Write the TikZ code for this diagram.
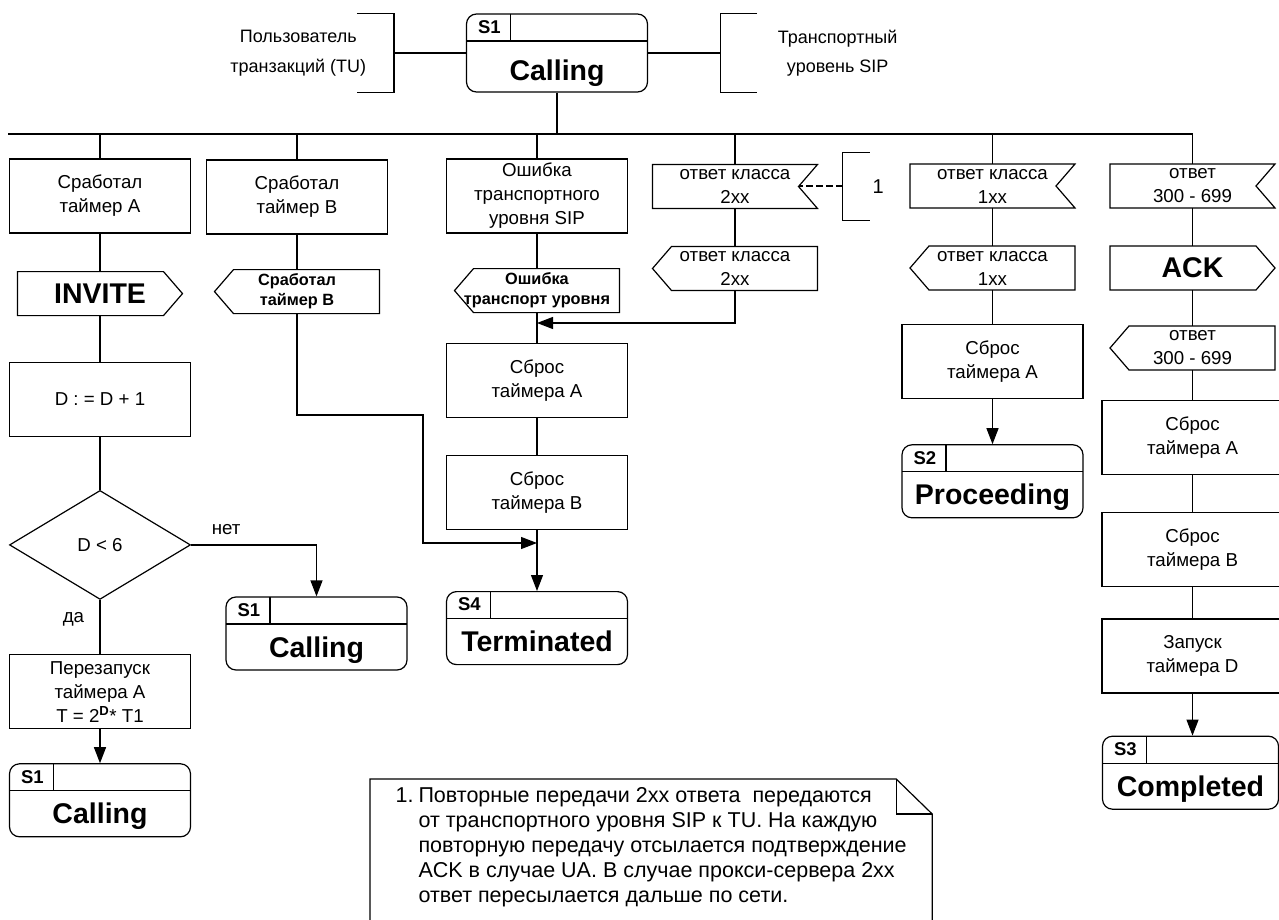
\documentclass[tikz,border=0pt]{standalone}
\usepackage{fontspec}
\setmainfont{Liberation Sans}
\usetikzlibrary{positioning,arrows.meta,shapes.geometric}
\tikzset{%
proc/.style={draw,rectangle,minimum width=181pt,minimum height=74pt,inner sep=2pt,align=center},
sigbox/.style={rectangle,fill=white,minimum width=167pt,minimum height=46pt,outer sep=-1pt,inner sep=1pt,align=center},
sigin/.style={sigbox,path picture={\draw ([shift={(1pt,-1pt)}]path picture bounding box.north west) -- ([shift={(-1pt,-1pt)}]path picture bounding box.north east) -- ([xshift=-20pt]path picture bounding box.east) -- ([shift={(-1pt,1pt)}]path picture bounding box.south east) -- ([shift={(1pt,1pt)}]path picture bounding box.south west) -- cycle;}},
sigleft/.style={sigbox,path picture={\draw ([shift={(20pt,-1pt)}]path picture bounding box.north west) -- ([shift={(-1pt,-1pt)}]path picture bounding box.north east) -- ([shift={(-1pt,1pt)}]path picture bounding box.south east) -- ([shift={(20pt,1pt)}]path picture bounding box.south west) -- ([xshift=1pt]path picture bounding box.west) -- cycle;}},
sigright/.style={sigbox,path picture={\draw ([shift={(1pt,-1pt)}]path picture bounding box.north west) -- ([shift={(-20pt,-1pt)}]path picture bounding box.north east) -- ([xshift=-1pt]path picture bounding box.east) -- ([shift={(-20pt,1pt)}]path picture bounding box.south east) -- ([shift={(1pt,1pt)}]path picture bounding box.south west) -- cycle;}},
smallbold/.style={font=\bfseries\fontsize{16.3}{20}\selectfont},
bigbold/.style={font=\bfseries\fontsize{28.5}{30}\selectfont},
cond/.style={draw,diamond,aspect=1.66,minimum width=181pt,minimum height=109pt,inner sep=0pt},
state/.style={draw,rectangle,rounded corners=10pt,minimum width=181pt,minimum height=73pt,inner sep=0pt,
  text height=50pt,text depth=3pt,font=\bfseries\fontsize{28.5}{30}\selectfont,
  path picture={\draw ([yshift=-27pt]path picture bounding box.north west) -- ([yshift=-27pt]path picture bounding box.north east);
    \draw ([xshift=44pt]path picture bounding box.north west) -- ([xshift=44pt,yshift=-27pt]path picture bounding box.north west);},
  label={[statenum]north west:#1}},
statenum/.style={anchor=center,xshift=23.5pt,yshift=-13.5pt,inner sep=0pt,font=\bfseries\fontsize{18.5}{20}\selectfont},
annot/.style={minimum height=78pt,inner sep=0pt,align=center,font=\fontsize{18}{29.5}\selectfont},
notetext/.style={anchor=north west,inner sep=0pt,font=\fontsize{21.5}{24.8}\selectfont},
arr/.style={-{Triangle[length=16pt,width=12pt]}}
}

\begin{document}
\begin{tikzpicture}[x=1pt,y=-1pt,line width=1.2pt,font=\fontsize{18.7}{24}\selectfont]
  \useasboundingbox (0,0) rectangle (1279,920);

  % head of the transaction
  \node[state=S1,minimum height=78pt,text height=59pt] (top) at (557,53) {Calling};
  \node[annot,minimum width=190pt] (tu)  [left=72pt of top]  {Пользователь\\транзакций (TU)};
  \node[annot,minimum width=234pt] (sip) [right=72pt of top] {Транспортный\\уровень SIP};

  % first row
  \node[proc]  (tA)  at (100,196)    {Сработал\\таймер A};
  \node[proc]  (tB)  at (297,197)    {Сработал\\таймер B};
  \node[proc]  (err) at (537,196)    {Ошибка\\транспортного\\уровня SIP};
  \node[sigin] (in2) at (735,186.5)  {ответ класса\\2xx};
  \node[sigin] (in1) at (992.5,186)  {ответ класса\\1xx};
  \node[sigin] (in3) at (1192.5,186) {ответ\\300 - 699};
  \node[annot,minimum width=70pt,minimum height=67pt,font=\fontsize{20}{24}\selectfont] (c1) [right=25pt of in2] {1};

  % timer A
  \node[sigright,bigbold] (inv)  [below=38pt of tA]   {INVITE};
  \node[proc]             (dinc) [below=46pt of inv]  {D : = D + 1};
  \node[cond]             (dlt)  [below=53pt of dinc] {D < 6};
  \node[proc]             (rst)  [below=54pt of dlt]  {Перезапуск\\таймера A\\T = 2\textsuperscript{\bfseries D}* T1};
  \node[state=S1]         (s1b)  [below=34pt of rst]  {Calling};
  \node[state=S1]         (s1m)  at (316.5,633.5)     {Calling};

  % timer B and transport error
  \node[sigleft,smallbold] (sigB)   [below=35pt of tB]     {Сработал\\таймер B};
  \node[sigleft,smallbold] (errsig) [below=35pt of err]    {Ошибка\\транспорт уровня};
  \node[proc]              (rA3)    [below=30pt of errsig] {Сброс\\таймера A};
  \node[proc]              (rB3)    [below=37pt of rA3]    {Сброс\\таймера B};
  \node[state=S4]          (s4)     [below=61pt of rB3]    {Terminated};

  % responses
  \node[sigleft]          (out2) [below=38pt of in2]  {ответ класса\\2xx};
  \node[sigleft]          (out1) [below=38pt of in1]  {ответ класса\\1xx};
  \node[proc]             (rA5)  [below=34pt of out1] {Сброс\\таймера A};
  \node[state=S2]         (s2)   [below=45pt of rA5]  {Proceeding};
  \node[sigright,bigbold] (ack)  [below=38pt of in3]  {ACK};
  \node[sigleft]          (out3) [below=36pt of ack]  {ответ\\300 - 699};
  \node[proc]             (rA6)  [below=30pt of out3] {Сброс\\таймера A};
  \node[proc]             (rB6)  [below=37pt of rA6]  {Сброс\\таймера B};
  \node[proc]             (stD)  [below=31pt of rB6]  {Запуск\\таймера D};
  \node[state=S3,minimum width=176pt] (s3) [below=42pt of stD,xshift=-2pt] {Completed};

  % note
  \node[minimum width=561pt,minimum height=150pt,inner sep=0pt,anchor=north west] (note) at (370,779) {};
  \node[notetext] (notebody) at ([shift={(25pt,-6pt)}]note.north west)
    {\begin{tabular}{@{}l@{\hspace{5pt}}l@{}}
     1. & Повторные передачи 2xx ответа~ передаются\\
        & от транспортного уровня SIP к TU. На каждую\\
        & повторную передачу отсылается подтверждение\\
        & ACK в случае UA. В случае прокси-сервера 2xx\\
        & ответ пересылается дальше по сети.
     \end{tabular}};
  \draw ([yshift=-10pt]note.south west) -- (note.north west) -- ([xshift=-36pt]note.north east)
        -- ([yshift=-35pt]note.north east) -- ([yshift=-10pt]note.south east);
  \draw ([xshift=-36pt]note.north east) |- ([yshift=-35pt]note.north east);

  % brackets
  \draw ([xshift=-37pt]tu.north east) -- (tu.north east) -- (tu.south east) -- ([xshift=-37pt]tu.south east);
  \draw ([xshift=37pt]sip.north west) -- (sip.north west) -- (sip.south west) -- ([xshift=37pt]sip.south west);
  \draw ([xshift=27pt]c1.north west) -- (c1.north west) -- (c1.south west) -- ([xshift=27pt]c1.south west);

  % connectors
  \coordinate (busL)  at (8,134);
  \coordinate (kneeB) at (423,415);
  \coordinate (joinB) at (537,543);
  \coordinate (join2) at (537,323);
  \draw (tu.east) -- (top.west);
  \draw (top.east) -- (sip.west);
  \draw (busL) -- (in3.north |- busL);
  \draw (top.south) -- (top.south |- busL);
  \foreach \n in {tA,tB,err,in2,in1,in3}
    \draw (\n.north) -- (\n.north |- busL);
  \foreach \a/\b in {tA/inv,inv/dinc,dinc/dlt,tB/sigB,err/errsig,errsig/rA3,rA3/rB3,in2/out2,
                     in1/out1,out1/rA5,in3/ack,ack/out3,out3/rA6,rA6/rB6,rB6/stD}
    \draw (\a.south) -- (\b.north);
  \draw (dlt.south) -- node[pos=0.35,left=12pt] (yes) {да} (rst.north);
  \draw[arr] (dlt.east) -| node[pos=0.14,above=6pt] (no) {нет} (s1m.north);
  \draw[arr] (rst.south) -- (s1b.north);
  \draw[arr] (rB3.south) -- (s4.north);
  \draw[arr] (rA5.south) -- (s2.north);
  \draw[arr] (stD.south) -- (stD.south |- s3.north);
  \draw[arr] (sigB.south) |- (kneeB) |- (joinB);
  \draw[arr] (out2.south) |- (join2);
  \draw[dash pattern=on 7pt off 3pt,line width=2pt] (c1.west) -- ([xshift=-19pt]in2.east);

\end{tikzpicture}
\end{document}
